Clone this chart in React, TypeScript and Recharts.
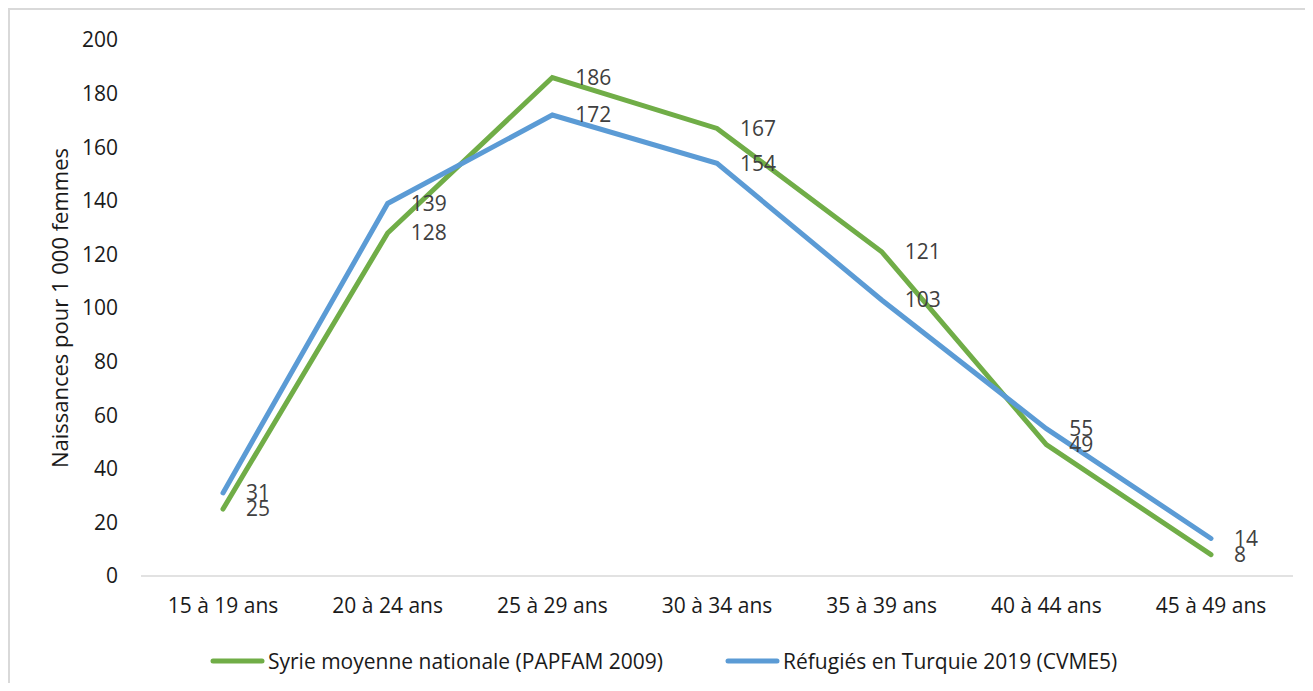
import { LineChart, Line, XAxis, YAxis, Legend, LabelList } from 'recharts'

const ageGroups = ['15 à 19 ans', '20 à 24 ans', '25 à 29 ans', '30 à 34 ans', '35 à 39 ans', '40 à 44 ans', '45 à 49 ans']
const syrieValues = [25, 128, 186, 167, 121, 49, 8]
const refugiesValues = [31, 139, 172, 154, 103, 55, 14]
const yTicks = [0, 20, 40, 60, 80, 100, 120, 140, 160, 180, 200]

const SYRIE = 'Syrie moyenne nationale (PAPFAM 2009)'
const REFUGIES = 'Réfugiés en Turquie 2019 (CVME5)'
const GREEN = '#70ad47'
const BLUE = '#5b9bd5'
const FONT = '"Open Sans", sans-serif'

const data = ageGroups.map((age, i) => ({
  age,
  syrie: syrieValues[i],
  refugies: refugiesValues[i],
}))

function ValueLabel(props: any) {
  const { x, y, value } = props
  return (
    <text x={x + 23} y={y} dy="0.355em" fontSize={21} fontFamily={FONT} fill="#404040">
      {value}
    </text>
  )
}

function YTitle(props: any) {
  const { viewBox } = props
  const cy = viewBox.y + viewBox.height / 2
  return (
    <text
      x={51}
      y={cy}
      transform={`rotate(-90, 51, ${cy})`}
      textAnchor="middle"
      dominantBaseline="central"
      fontSize={22}
      fontFamily={FONT}
      fill="#1a1a1a"
    >
      Naissances pour 1 000 femmes
    </text>
  )
}

function LegendContent() {
  const items = [
    { name: SYRIE, color: GREEN },
    { name: REFUGIES, color: BLUE },
  ]
  return (
    <div style={{ display: 'flex', alignItems: 'center', height: 40, paddingLeft: 202, fontFamily: FONT, fontSize: 21, color: '#1a1a1a' }}>
      {items.map((it, i) => (
        <div key={it.name} style={{ display: 'flex', alignItems: 'center', marginLeft: i ? 62 : 0 }}>
          <svg width={55} height={8}>
            <line x1={3} y1={4} x2={52} y2={4} stroke={it.color} strokeWidth={5} strokeLinecap="round" />
          </svg>
          <span style={{ marginLeft: 3, whiteSpace: 'nowrap' }}>{it.name}</span>
        </div>
      ))}
    </div>
  )
}

export default function App() {
  return (
    <div style={{ width: 1297, height: 675, borderTop: '2px solid #d9d9d9', borderLeft: '2px solid #d9d9d9', boxSizing: 'border-box', position: 'relative' }}>
      <div style={{ position: 'absolute', left: -2, top: -2 }}>
        <LineChart width={1297} height={675} data={data} margin={{ top: 32, right: 12, bottom: 2, left: 0 }}>
          <XAxis
            dataKey="age"
            height={65}
            padding={{ left: 82, right: 82 }}
            tickLine={false}
            tickSize={0}
            tickMargin={22}
            axisLine={{ stroke: '#d9d9d9', strokeWidth: 1.5 }}
            tick={{ fontSize: 21, fontFamily: FONT, fill: '#1a1a1a' }}
          />
          <YAxis
            width={133}
            domain={[0, 200]}
            ticks={yTicks}
            axisLine={false}
            tickLine={false}
            tickSize={0}
            tickMargin={23}
            tick={{ fontSize: 21, fontFamily: FONT, fill: '#1a1a1a' }}
            label={{ content: YTitle }}
          />
          <Legend verticalAlign="bottom" height={40} content={LegendContent} />
          <Line
            dataKey="syrie"
            name={SYRIE}
            stroke={GREEN}
            strokeWidth={5}
            strokeLinecap="round"
            dot={false}
            activeDot={false}
            isAnimationActive={false}
          >
            <LabelList dataKey="syrie" content={ValueLabel} />
          </Line>
          <Line
            dataKey="refugies"
            name={REFUGIES}
            stroke={BLUE}
            strokeWidth={5}
            strokeLinecap="round"
            dot={false}
            activeDot={false}
            isAnimationActive={false}
          >
            <LabelList dataKey="refugies" content={ValueLabel} />
          </Line>
        </LineChart>
      </div>
    </div>
  )
}
